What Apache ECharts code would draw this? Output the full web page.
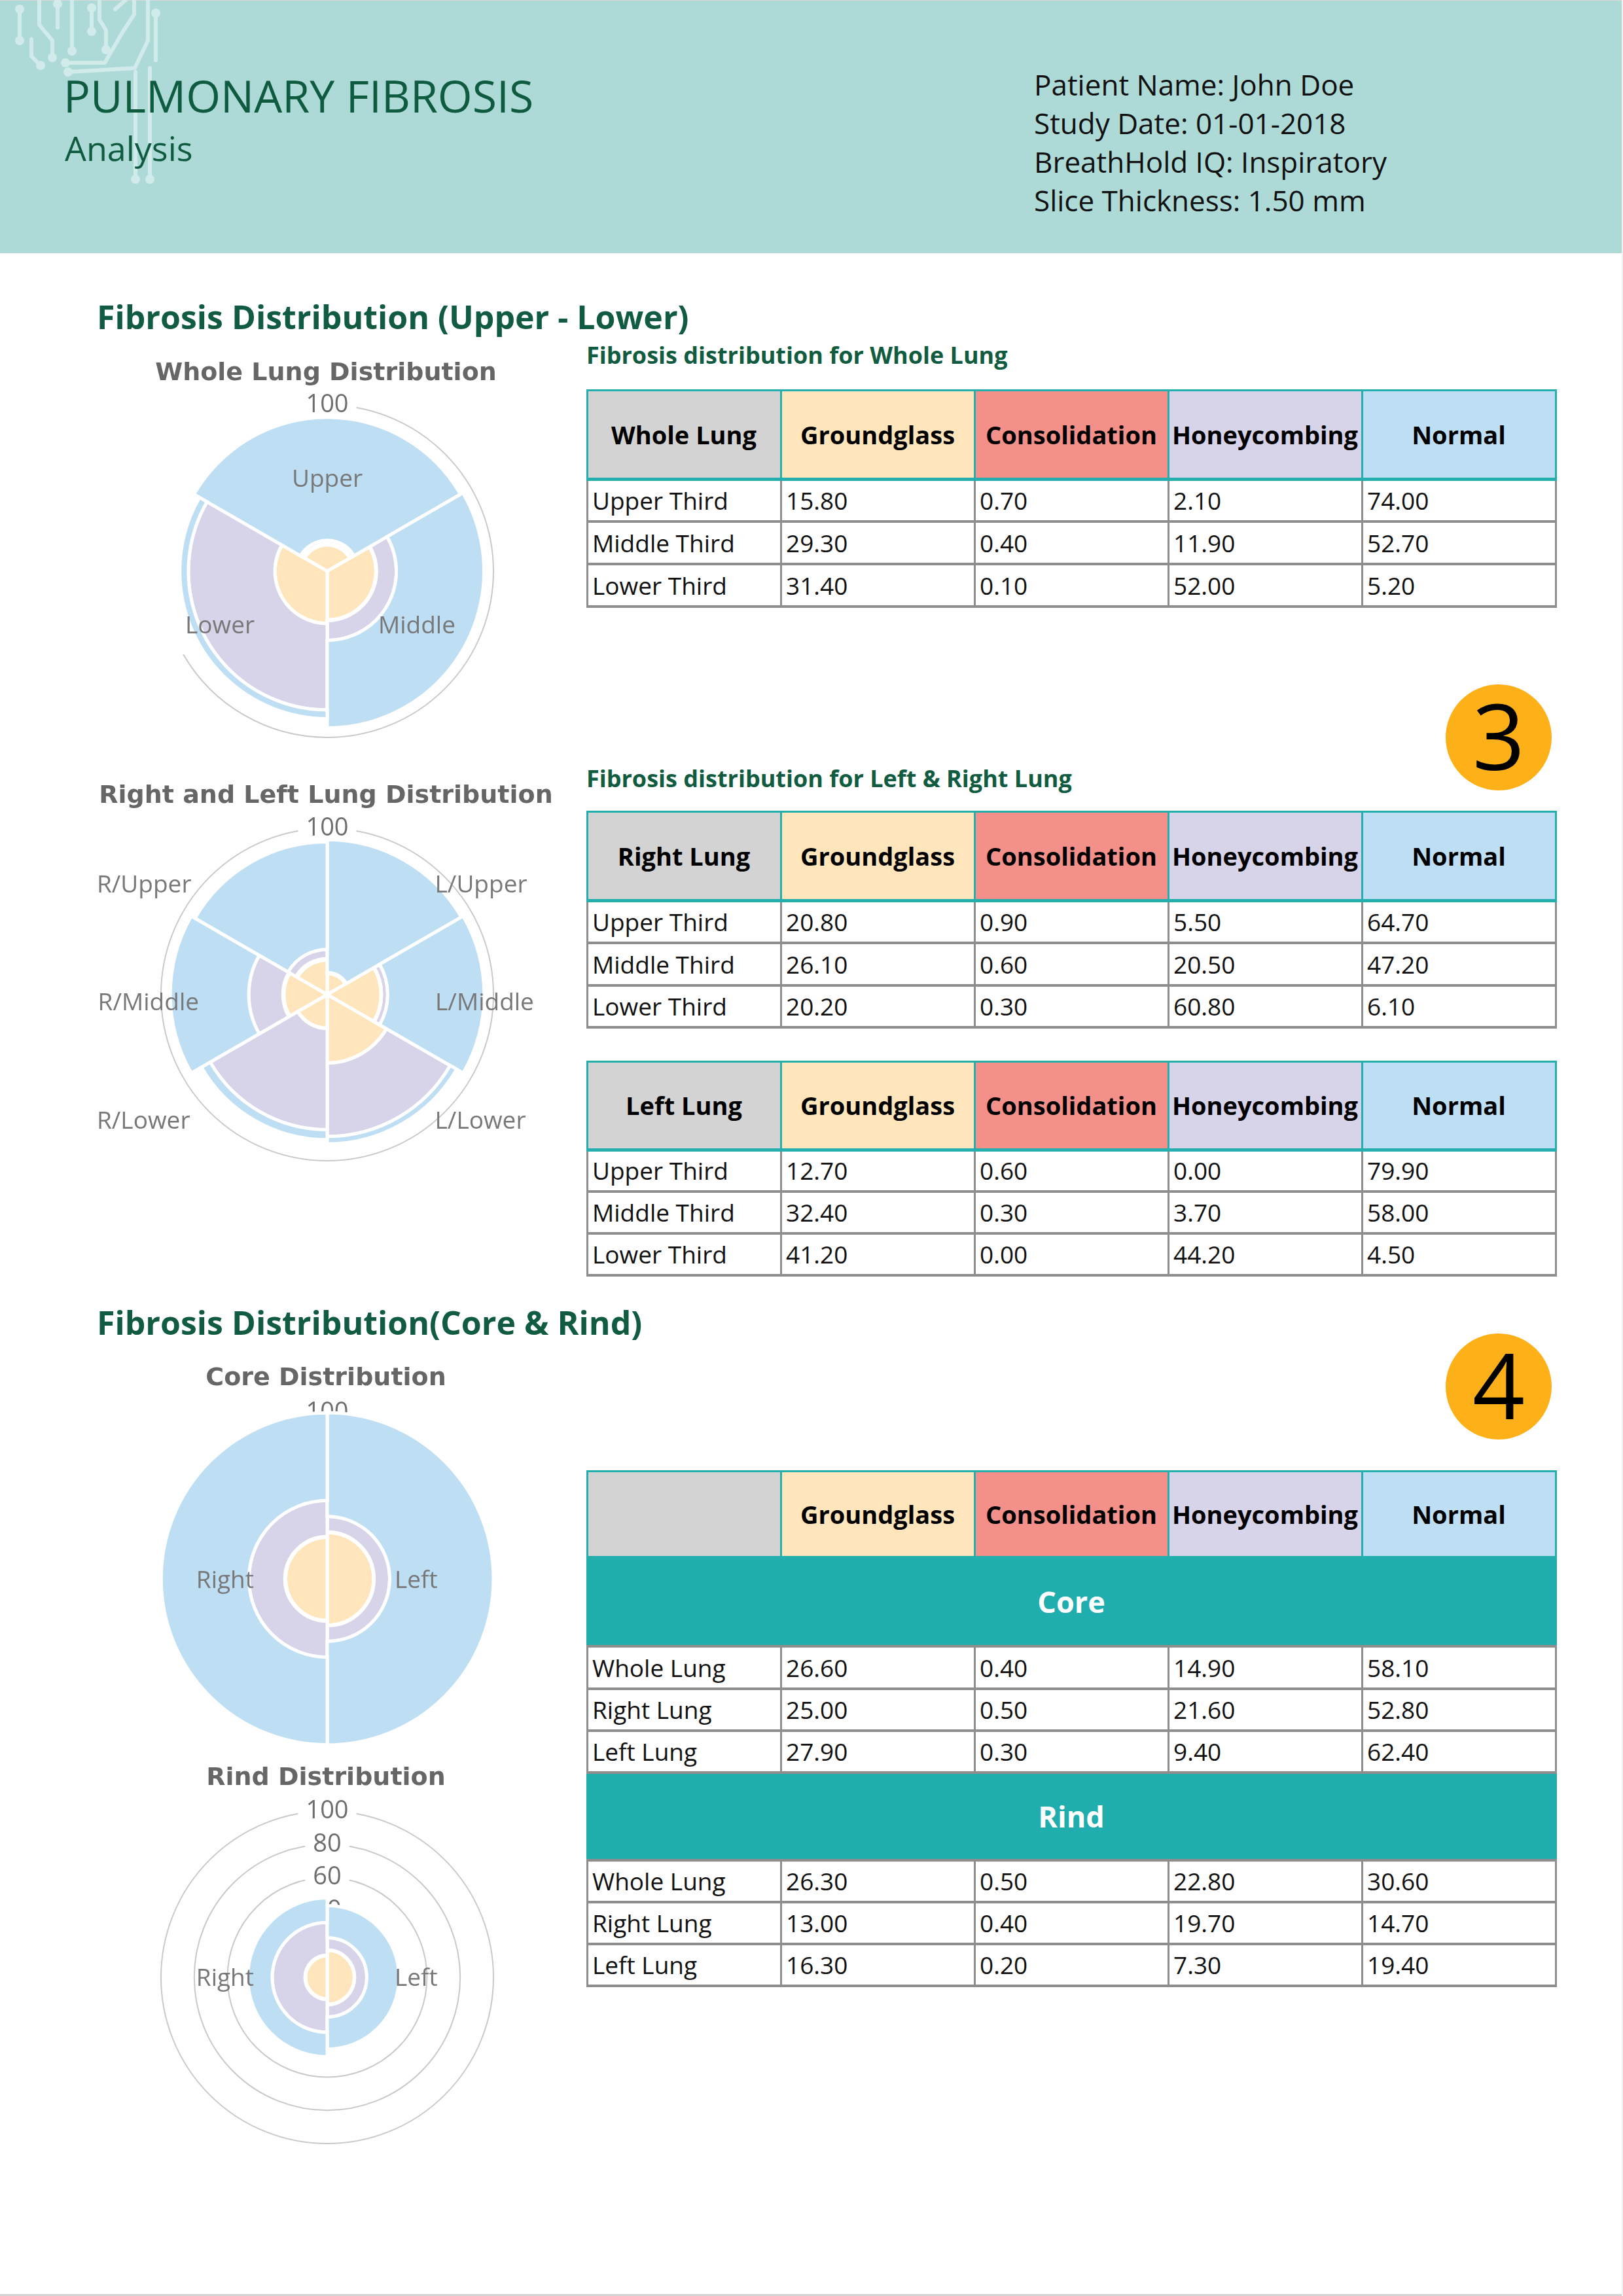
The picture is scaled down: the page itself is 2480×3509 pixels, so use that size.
<!DOCTYPE html>
<html><head><meta charset="utf-8">
<script src="https://cdn.jsdelivr.net/npm/echarts@6/dist/echarts.min.js"></script>
<style>
body{margin:0;background:#fff;}
#page{position:relative;width:2480px;height:3509px;overflow:hidden;font-family:'Open Sans',sans-serif;background:#fff;}
.abs{position:absolute;white-space:nowrap;}
</style></head>
<body><div id="page">
<div class="abs" style="left:0;top:0;width:2480px;height:387px;background:#ADD9D7"></div>
<div class="abs" style="left:0;top:0;width:2480px;height:1px;background:#d8d8d8"></div>
<div class="abs" style="left:0;top:3506px;width:2480px;height:3px;background:#d2d2d2"></div>
<div class="abs" style="left:2478px;top:0;width:2px;height:3509px;background:#f0f0f0"></div>
<svg class="abs" style="left:0;top:0" width="300" height="300" viewBox="0 0 300 300">
 <g fill="none" stroke="#D0EBE9" stroke-width="6" stroke-linecap="round" stroke-linejoin="round">
  <path d="M30 14 L30 62"/>
  <path d="M60 0 L60 38 L80 62 L80 86"/>
  <path d="M88 6 L88 42"/>
  <path d="M110 0 L110 74"/>
  <path d="M140 12 L140 48"/>
  <path d="M152 0 L152 30 L162 46 L162 72"/>
  <path d="M176 14 L192 0"/>
  <path d="M205 0 L205 22 L188 48 L160 96 L100 96"/>
  <path d="M226 0 L226 62 L206 104 L104 110"/>
  <path d="M238 20 L238 92"/>
  <path d="M207 110 L207 270"/>
  <path d="M229 104 L229 270"/>
  <path d="M48 60 L48 86 L62 100"/>
 </g>
 <g fill="#D0EBE9">
  <circle cx="30" cy="14" r="7"/><circle cx="30" cy="62" r="7"/><circle cx="80" cy="88" r="7"/>
  <circle cx="88" cy="6" r="7"/><circle cx="110" cy="78" r="7"/><circle cx="140" cy="12" r="7"/>
  <circle cx="162" cy="76" r="7"/><circle cx="100" cy="96" r="7"/><circle cx="104" cy="110" r="7"/>
  <circle cx="238" cy="20" r="7"/><circle cx="207" cy="274" r="7"/><circle cx="229" cy="274" r="7"/>
  <circle cx="62" cy="100" r="7"/><circle cx="140" cy="48" r="7"/>
 </g>
</svg>
<div class="abs" style="left:97px;top:112px;font-size:68px;line-height:68px;color:#0F5B3F">PULMONARY FIBROSIS</div>
<div class="abs" style="left:99px;top:200px;font-size:52px;line-height:52px;color:#0F5B3F">Analysis</div>
<div class="abs" style="left:1580px;top:100px;font-size:44px;line-height:59px;color:#111">Patient Name: John Doe<br>Study Date: 01-01-2018<br>BreathHold IQ: Inspiratory<br>Slice Thickness: 1.50 mm</div>

<div class="abs" style="left:148px;top:459px;font-size:50px;line-height:50px;font-weight:bold;color:#115C40">Fibrosis Distribution (Upper - Lower)</div>
<div class="abs" style="left:148px;top:1996px;font-size:50px;line-height:50px;font-weight:bold;color:#115C40">Fibrosis Distribution(Core &amp; Rind)</div>
<div class="abs" style="left:896px;top:525px;font-size:36px;line-height:36px;font-weight:bold;color:#115C40">Fibrosis distribution for Whole Lung</div>
<div class="abs" style="left:896px;top:1172px;font-size:36px;line-height:36px;font-weight:bold;color:#115C40">Fibrosis distribution for Left &amp; Right Lung</div>

<div class="abs" style="left:2209px;top:1046px;width:162px;height:162px;border-radius:50%;background:#FDB017;font-size:140px;line-height:154px;text-align:center;color:#000">3</div>
<div class="abs" style="left:2209px;top:2038px;width:162px;height:162px;border-radius:50%;background:#FDB017;font-size:140px;line-height:154px;text-align:center;color:#000">4</div>

<div id="tables"></div>
<div id="chart" class="abs" style="left:0;top:450px;width:996px;height:3000px"></div>
</div>
<script>
// ---------- data ----------
const measures = ['Groundglass', 'Consolidation', 'Honeycombing', 'Normal'];
const thirdRows = ['Upper Third', 'Middle Third', 'Lower Third'];
const lungRows = ['Whole Lung', 'Right Lung', 'Left Lung'];

const wholeGG = [15.8, 29.3, 31.4];
const wholeCons = [0.7, 0.4, 0.1];
const wholeHoney = [2.1, 11.9, 52.0];
const wholeNormal = [74.0, 52.7, 5.2];

const rightGG = [20.8, 26.1, 20.2];
const rightCons = [0.9, 0.6, 0.3];
const rightHoney = [5.5, 20.5, 60.8];
const rightNormal = [64.7, 47.2, 6.1];

const leftGG = [12.7, 32.4, 41.2];
const leftCons = [0.6, 0.3, 0.0];
const leftHoney = [0.0, 3.7, 44.2];
const leftNormal = [79.9, 58.0, 4.5];

const coreGG = [26.6, 25.0, 27.9];
const coreCons = [0.4, 0.5, 0.3];
const coreHoney = [14.9, 21.6, 9.4];
const coreNormal = [58.1, 52.8, 62.4];

const rindGG = [26.3, 13.0, 16.3];
const rindCons = [0.5, 0.4, 0.2];
const rindHoney = [22.8, 19.7, 7.3];
const rindNormal = [30.6, 14.7, 19.4];

const wholeCats = ['Upper', 'Middle', 'Lower'];
const sideCats = ['L/Upper', 'L/Middle', 'L/Lower', 'R/Lower', 'R/Middle', 'R/Upper'];
const coreRindCats = ['Left', 'Right'];
const radiusTicks = [0, 20, 40, 60, 80, 100];

// ---------- style ----------
const measureColors = ['#FFE5BB', '#F4908A', '#D7D3E8', '#BEDEF3'];
const headGray = '#D3D3D3';
const teal = '#24AEAE';
const bandTeal = '#1FADAD';
const lineGray = '#8E8E8E';

// ---------- tables ----------
const colX = [897, 1193, 1489, 1785, 2081, 2377];
const host = document.getElementById('tables');
function box(x, y, w, h, css, text) {
  const d = document.createElement('div');
  d.className = 'abs';
  d.style.cssText += `left:${x}px;top:${y}px;width:${w}px;height:${h}px;` + (css || '');
  if (text !== undefined) d.textContent = text;
  host.appendChild(d);
  return d;
}
function buildTable(segments) {
  const lines = [];
  let prev = null;
  segments.forEach(seg => {
    const h = seg.y1 - seg.y0;
    if (seg.type === 'header') {
      const bgs = [headGray].concat(measureColors);
      const labels = [seg.label].concat(measures);
      for (let c = 0; c < 5; c++) {
        box(colX[c], seg.y0, colX[c + 1] - colX[c], h,
          `background:${bgs[c]};font-weight:bold;font-size:38px;line-height:${h}px;text-align:center;color:#000;`, labels[c]);
      }
      lines.push({p: 2, x: colX[0] - 1.5, y: seg.y0 - 1.5, w: colX[5] - colX[0] + 3, h: 3, c: teal});
      lines.push({p: 2, x: colX[0] - 1.5, y: seg.y1 - 2.5, w: colX[5] - colX[0] + 3, h: 5, c: teal});
      colX.forEach(x => lines.push({p: 2, x: x - 1.5, y: seg.y0, w: 3, h: h, c: teal}));
    } else if (seg.type === 'band') {
      box(colX[0] - 1.5, seg.y0, colX[5] - colX[0] + 3, h,
        `background:${bandTeal};font-weight:bold;font-size:45px;line-height:${h}px;text-align:center;color:#fff;`, seg.text);
    } else {
      const vals = [seg.label].concat(seg.values.map(v => v.toFixed(2)));
      for (let c = 0; c < 5; c++) {
        box(colX[c], seg.y0, colX[c + 1] - colX[c], h,
          `font-size:37px;line-height:${h}px;text-align:left;padding-left:8px;box-sizing:border-box;color:#111;`, vals[c]);
      }
      colX.forEach(x => lines.push({p: 1, x: x - 1.5, y: seg.y0, w: 3, h: h, c: lineGray}));
      lines.push({p: 1, x: colX[0] - 1.5, y: seg.y1 - 2, w: colX[5] - colX[0] + 3, h: 4, c: lineGray});
      if (prev && prev.type === 'band') lines.push({p: 1, x: colX[0] - 1.5, y: seg.y0 - 2, w: colX[5] - colX[0] + 3, h: 4, c: lineGray});
    }
    prev = seg;
  });
  lines.sort((a, b) => a.p - b.p).forEach(l => box(l.x, l.y, l.w, l.h, `background:${l.c};`));
}
function dataSegs(labels, arrs, ys) {
  return labels.map((lab, i) => ({type: 'data', label: lab, values: arrs.map(a => a[i]), y0: ys[i], y1: ys[i + 1]}));
}
buildTable([{type: 'header', label: 'Whole Lung', y0: 596, y1: 732}]
  .concat(dataSegs(thirdRows, [wholeGG, wholeCons, wholeHoney, wholeNormal], [732, 797, 862, 927])));
buildTable([{type: 'header', label: 'Right Lung', y0: 1240, y1: 1376}]
  .concat(dataSegs(thirdRows, [rightGG, rightCons, rightHoney, rightNormal], [1376, 1441, 1506, 1570])));
buildTable([{type: 'header', label: 'Left Lung', y0: 1622, y1: 1757}]
  .concat(dataSegs(thirdRows, [leftGG, leftCons, leftHoney, leftNormal], [1757, 1821, 1885, 1949])));
buildTable([{type: 'header', label: '', y0: 2248, y1: 2380}, {type: 'band', text: 'Core', y0: 2380, y1: 2516}]
  .concat(dataSegs(lungRows, [coreGG, coreCons, coreHoney, coreNormal], [2516, 2581, 2645, 2709]))
  .concat([{type: 'band', text: 'Rind', y0: 2709, y1: 2843}])
  .concat(dataSegs(lungRows, [rindGG, rindCons, rindHoney, rindNormal], [2843, 2907, 2971, 3035])));

// ---------- charts ----------
// label paddings [top, right, bottom, left] per category (style only)
const charts = [
  {title: 'Whole Lung Distribution', titleTop: 97, cy: 423, cats: wholeCats, gap: false, margin: -164,
   pads: [[0, 0, 31, 0], [78, 0, 0, 0], [78, 33, 0, 0]],
   series: [wholeGG, wholeCons, wholeHoney, wholeNormal]},
  {title: 'Right and Left Lung Distribution', titleTop: 743, cy: 1070, cats: sideCats, gap: true, margin: -89,
   pads: [[0, 0, 5, 82], [26, 0, 0, 0], [33, 0, 0, 82], [33, 127, 0, 0], [26, 31, 0, 0], [0, 125, 5, 0]],
   series: [[leftGG, rightGG], [leftCons, rightCons], [leftHoney, rightHoney], [leftNormal, rightNormal]]
     .map(([l, r]) => [l[0], l[1], l[2], r[2], r[1], r[0]])},
  {title: 'Core Distribution', titleTop: 1633, cy: 1963, cats: coreRindCats, gap: true, margin: -151,
   pads: [[6, 0, 0, 0], [6, 9, 0, 0]],
   series: [coreGG, coreCons, coreHoney, coreNormal].map(a => [a[2], a[1]])},
  {title: 'Rind Distribution', titleTop: 2244, cy: 2572, cats: coreRindCats, gap: true, margin: -151,
   pads: [[4, 0, 0, 0], [4, 9, 0, 0]],
   series: [rindGG, rindCons, rindHoney, rindNormal].map(a => [a[2], a[1]])}
];

const labelFont = {fontFamily: 'Open Sans', fontSize: 37, color: '#787878'};
const option = {
  animation: false,
  title: charts.map(c => ({
    text: c.title, left: 'center', top: c.titleTop,
    textStyle: {fontFamily: 'DejaVu Sans', fontWeight: 'bold', fontSize: 38, color: '#666'}
  })),
  polar: charts.map(c => ({center: [500, c.cy], radius: 254})),
  angleAxis: charts.map((c, i) => {
    const rich = {};
    c.pads.forEach((p, k) => { rich['p' + k] = Object.assign({padding: p}, labelFont); });
    return {
      polarIndex: i, type: 'category', data: c.cats, startAngle: 90, boundaryGap: c.gap, z: 10,
      axisLine: {show: false}, axisTick: {show: false}, splitLine: {show: false},
      axisLabel: Object.assign({interval: 0, margin: c.margin, rich: rich,
        formatter: (v, idx) => '{p' + idx + '|' + v + '}'}, labelFont)
    };
  }),
  radiusAxis: charts.map((c, i) => ({
    polarIndex: i, type: 'value', min: radiusTicks[0], max: radiusTicks[radiusTicks.length - 1],
    interval: radiusTicks[1] - radiusTicks[0], z: 1,
    axisLine: {show: false}, axisTick: {show: false},
    splitLine: {show: true, lineStyle: {color: '#c9c9c9', width: 2}},
    axisLabel: {showMinLabel: false, margin: 0, align: 'center', verticalAlign: 'middle', fontFamily: 'Open Sans',
      fontSize: 38, color: '#6e6e6e', backgroundColor: '#fff', padding: [0, 12]}
  })),
  series: []
};
charts.forEach((c, i) => {
  measures.forEach((m, k) => {
    option.series.push({
      type: 'bar', name: m, coordinateSystem: 'polar', polarIndex: i, stack: 'st' + i,
      data: c.series[k], barCategoryGap: '0%', silent: true,
      itemStyle: {color: measureColors[k], borderColor: '#fff', borderWidth: 5}
    });
  });
});
const chart = echarts.init(document.getElementById('chart'), null, {renderer: 'canvas'});
chart.setOption(option);
</script>
</body></html>
